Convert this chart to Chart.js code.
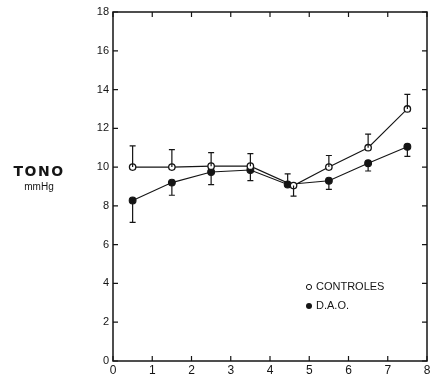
<!DOCTYPE html>
<html>
<head>
<meta charset="utf-8">
<script src="https://cdn.jsdelivr.net/npm/chart.js@4"></script>
<style>
  body { margin: 0; background: #fff; }
  #wrap { position: relative; width: 435px; height: 377px; }
</style>
</head>
<body>
<div id="wrap"><canvas id="chart" width="435" height="377"></canvas></div>
<script>
// data
const ctrlX = [0.5, 1.5, 2.5, 3.5, 4.6, 5.5, 6.5, 7.5];
const ctrlY = [10.0, 10.0, 10.05, 10.05, 9.05, 10.0, 11.0, 13.0];
const ctrlErrEnd = [11.1, 10.9, 10.75, 10.7, 8.5, 10.6, 11.7, 13.75];

const daoX = [0.5, 1.5, 2.5, 3.5, 4.45, 5.5, 6.5, 7.5];
const daoY = [8.28, 9.2, 9.75, 9.85, 9.1, 9.3, 10.2, 11.05];
const daoErrEnd = [7.15, 8.55, 9.1, 9.3, 9.65, 8.85, 9.8, 10.55];

const xTicks = [0, 1, 2, 3, 4, 5, 6, 7, 8];
const yTicks = [0, 2, 4, 6, 8, 10, 12, 14, 16, 18];

const ink = '#151515';

// error bars, frame, inner ticks, legend and axis title
const decor = {
    id: 'decor',
    afterDatasetsDraw(chart) {
        const c = chart.ctx;
        const xs = chart.scales.x, ys = chart.scales.y;
        const a = chart.chartArea;
        c.save();
        c.strokeStyle = ink;
        c.lineWidth = 1.2;

        // error bars
        const bars = [[ctrlX, ctrlY, ctrlErrEnd], [daoX, daoY, daoErrEnd]];
        bars.forEach(([xv, yv, ev]) => {
            xv.forEach((x, i) => {
                const px = xs.getPixelForValue(x);
                const py0 = ys.getPixelForValue(yv[i]);
                const py1 = ys.getPixelForValue(ev[i]);
                c.beginPath();
                c.moveTo(px, py0);
                c.lineTo(px, py1);
                c.moveTo(px - 3, py1);
                c.lineTo(px + 3, py1);
                c.stroke();
            });
        });

        // frame
        c.lineWidth = 1.5;
        c.strokeRect(a.left, a.top, a.right - a.left, a.bottom - a.top);

        // inner ticks
        c.lineWidth = 1.2;
        xTicks.forEach(v => {
            const px = xs.getPixelForValue(v);
            c.beginPath();
            c.moveTo(px, a.top); c.lineTo(px, a.top + 5);
            c.moveTo(px, a.bottom); c.lineTo(px, a.bottom - 5);
            c.stroke();
        });
        yTicks.forEach(v => {
            const py = ys.getPixelForValue(v);
            c.beginPath();
            c.moveTo(a.left, py); c.lineTo(a.left + 5, py);
            c.moveTo(a.right, py); c.lineTo(a.right - 5, py);
            c.stroke();
        });

        // legend
        c.fillStyle = ink;
        c.font = '11px "Liberation Sans", Arial, sans-serif';
        c.textBaseline = 'middle';
        c.lineWidth = 1;
        c.beginPath();
        c.arc(309, 287, 2.6, 0, Math.PI * 2);
        c.stroke();
        c.fillText('CONTROLES', 316, 287);
        c.beginPath();
        c.arc(309, 306, 3, 0, Math.PI * 2);
        c.fill();
        c.fillText('D.A.O.', 316, 306);

        // y title
        c.textAlign = 'center';
        c.font = 'bold 14px "DejaVu Sans", sans-serif';
        c.letterSpacing = '1.5px';
        c.fillText('TONO', 39, 172);
        c.letterSpacing = '0px';
        c.font = '10px "Liberation Sans", Arial, sans-serif';
        c.fillText('mmHg', 39, 187);
        c.restore();
    }
};

const toPts = (xv, yv) => xv.map((x, i) => ({ x: x, y: yv[i] }));

new Chart(document.querySelector('#chart').getContext('2d'), {
    type: 'line',
    data: {
        datasets: [
            {
                label: 'CONTROLES',
                data: toPts(ctrlX, ctrlY),
                borderColor: ink,
                borderWidth: 1.1,
                pointRadius: 3.2,
                pointBorderWidth: 1.3,
                pointBackgroundColor: '#fff',
                pointBorderColor: ink,
                tension: 0
            },
            {
                label: 'D.A.O.',
                data: toPts(daoX, daoY),
                borderColor: ink,
                borderWidth: 1.1,
                pointRadius: 3.4,
                pointBackgroundColor: ink,
                pointBorderColor: ink,
                tension: 0
            }
        ]
    },
    options: {
        responsive: false,
        animation: false,
        layout: { padding: { left: 91, right: 8, top: 12, bottom: 0 } },
        plugins: { legend: { display: false }, tooltip: { enabled: false } },
        scales: {
            x: {
                type: 'linear',
                min: 0, max: 8,
                afterBuildTicks: s => { s.ticks = xTicks.map(v => ({ value: v })); },
                afterFit: s => { s.height = 16; },
                grid: { display: false, drawTicks: false },
                border: { display: false },
                ticks: { color: ink, padding: 2, font: { size: 12, family: 'Liberation Sans' } }
            },
            y: {
                min: 0, max: 18,
                afterBuildTicks: s => { s.ticks = yTicks.map(v => ({ value: v })); },
                afterFit: s => { s.width = 22; },
                grid: { display: false, drawTicks: false },
                border: { display: false },
                ticks: { color: ink, padding: 4, font: { size: 11, family: 'Liberation Sans' } }
            }
        }
    },
    plugins: [decor]
});
</script>
</body>
</html>
